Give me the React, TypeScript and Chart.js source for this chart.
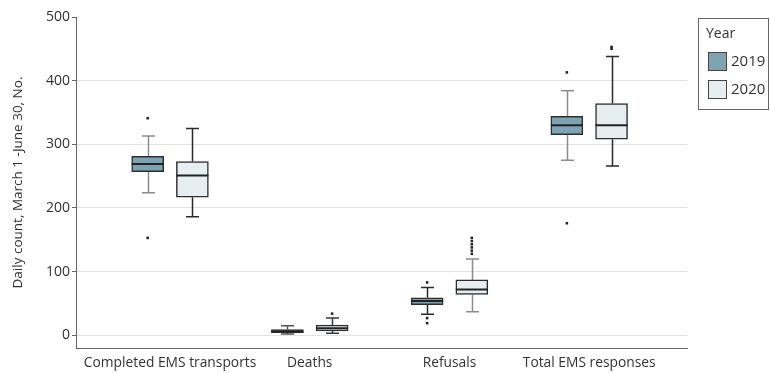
import React, { useEffect, useRef } from "react";
import { Chart, registerables } from "chart.js";

Chart.register(...registerables);

const categories = ["Completed EMS transports", "Deaths", "Refusals", "Total EMS responses"];
const years = ["2019", "2020"];
const yTicks = [0, 100, 200, 300, 400, 500];

// 2019 box statistics per category
const low2019 = [224, 2, 33, 275];
const q1_2019 = [257, 4, 48, 315];
const median2019 = [269, 6, 54, 330];
const q3_2019 = [281, 9, 59, 344];
const high2019 = [313, 15, 75, 384];
const outliers2019 = [[341, 153], [], [83, 27, 19], [413, 176]];

// 2020 box statistics per category
const low2020 = [186, 3, 37, 266];
const q1_2020 = [217, 7, 64, 308];
const median2020 = [251, 11, 72, 330];
const q3_2020 = [273, 16, 87, 364];
const high2020 = [325, 27, 120, 438];
const outliers2020 = [[], [34], [153, 148, 143, 138, 133, 128], [453, 450]];

const FONT = "'Open Sans', 'Noto Sans', sans-serif";
const TEXT = "#333333";
const fill2019 = "#7ea3b2";
const fill2020 = "#e6eef2";
const boxBorder = "#2e2e2e";
const whiskerColors2019 = ["#8c8c8c", "#555555", "#2a2a2a", "#8c8c8c"];
const whiskerColors2020 = ["#2a2a2a", "#3a3a3a", "#8c8c8c", "#2a2a2a"];
const GROUP_OFFSET = 0.16;

const stats = [
  { low: low2019, q1: q1_2019, med: median2019, q3: q3_2019, high: high2019, out: outliers2019, off: -GROUP_OFFSET, wc: whiskerColors2019 },
  { low: low2020, q1: q1_2020, med: median2020, q3: q3_2020, high: high2020, out: outliers2020, off: GROUP_OFFSET, wc: whiskerColors2020 },
];

const whiskerPlugin = {
  id: "whiskers",
  beforeDatasetsDraw(chart: any) {
    const { ctx, scales } = chart;
    const xs = scales.x, ys = scales.y;
    ctx.save();
    ctx.lineWidth = 1.5;
    stats.forEach((s) => {
      categories.forEach((_, i) => {
        const x = Math.round(xs.getPixelForValue(i + s.off)) + 0.5;
        ctx.strokeStyle = s.wc[i];
        const yl = ys.getPixelForValue(s.low[i]);
        const y1 = ys.getPixelForValue(s.q1[i]);
        const y3 = ys.getPixelForValue(s.q3[i]);
        const yh = ys.getPixelForValue(s.high[i]);
        ctx.beginPath();
        ctx.moveTo(x, yl); ctx.lineTo(x, y1);
        ctx.moveTo(x, y3); ctx.lineTo(x, yh);
        ctx.moveTo(x - 6.5, yl); ctx.lineTo(x + 6.5, yl);
        ctx.moveTo(x - 6.5, yh); ctx.lineTo(x + 6.5, yh);
        ctx.stroke();
      });
    });
    ctx.restore();
  },
  afterDatasetsDraw(chart: any) {
    const { ctx, scales } = chart;
    const xs = scales.x, ys = scales.y;
    ctx.save();
    ctx.lineWidth = 2;
    ctx.strokeStyle = "#222222";
    stats.forEach((s) => {
      categories.forEach((_, i) => {
        const x = xs.getPixelForValue(i + s.off);
        const y = ys.getPixelForValue(s.med[i]);
        ctx.beginPath();
        ctx.moveTo(x - 16, y); ctx.lineTo(x + 16, y);
        ctx.stroke();
      });
    });
    ctx.restore();
  },
};

const legendPlugin = {
  id: "boxLegend",
  afterDraw(chart: any) {
    const { ctx } = chart;
    ctx.save();
    ctx.strokeStyle = "#666666";
    ctx.lineWidth = 1;
    ctx.strokeRect(698.5, 18.5, 70, 91);
    ctx.fillStyle = TEXT;
    ctx.font = `14px ${FONT}`;
    ctx.textBaseline = "middle";
    ctx.textAlign = "left";
    ctx.fillText("Year", 706, 34);
    const fills = [fill2019, fill2020];
    years.forEach((yr, k) => {
      const top = 52 + k * 28;
      ctx.fillStyle = fills[k];
      ctx.fillRect(708, top, 18, 18);
      ctx.strokeStyle = "#444444";
      ctx.strokeRect(708.5, top + 0.5, 18, 18);
      ctx.fillStyle = TEXT;
      ctx.font = `15px ${FONT}`;
      ctx.fillText(yr, 731, top + 10);
    });
    ctx.restore();
  },
};

export default function App() {
  const ref = useRef<HTMLCanvasElement>(null);
  useEffect(() => {
    if (!ref.current) return;
    const boxData = (s: any) => categories.map((_, i) => ({ x: i + s.off, y: [s.q1[i], s.q3[i]] }));
    const outData = (s: any) => {
      const pts: any[] = [];
      categories.forEach((_, i) => s.out[i].forEach((v: number) => pts.push({ x: i + s.off, y: v })));
      return pts;
    };
    const chart = new Chart(ref.current, {
      type: "bar",
      data: {
        datasets: [
          {
            label: years[0], data: boxData(stats[0]) as any, backgroundColor: fill2019,
            borderColor: boxBorder, borderWidth: 1.5, borderSkipped: false, barThickness: 32, grouped: false,
          } as any,
          {
            label: years[1], data: boxData(stats[1]) as any, backgroundColor: fill2020,
            borderColor: boxBorder, borderWidth: 1.5, borderSkipped: false, barThickness: 32, grouped: false,
          } as any,
          {
            type: "scatter", label: "out2019", data: outData(stats[0]), pointStyle: "rect",
            radius: 1.8, backgroundColor: "#222222", borderWidth: 0,
          } as any,
          {
            type: "scatter", label: "out2020", data: outData(stats[1]), pointStyle: "rect",
            radius: 1.8, backgroundColor: "#222222", borderWidth: 0,
          } as any,
        ],
      },
      options: {
        animation: false,
        responsive: true,
        maintainAspectRatio: false,
        devicePixelRatio: 1,
        layout: { padding: { left: 0, top: 17, right: 83, bottom: 0 } },
        plugins: { legend: { display: false }, tooltip: { enabled: false } },
        scales: {
          x: {
            type: "linear",
            offset: false,
            min: -0.673,
            max: 3.7,
            afterBuildTicks: (scale: any) => { scale.ticks = categories.map((_, i) => ({ value: i })); },
            afterFit: (scale: any) => { scale.height = 25; },
            ticks: {
              callback: (v: any) => categories[Math.round(Number(v))] ?? "",
              font: { family: FONT, size: 13.8 }, color: TEXT, padding: 7, maxRotation: 0, autoSkip: false,
            },
            grid: { display: false, drawTicks: false, offset: false },
            border: { display: true, color: "#666666", width: 1 },
          },
          y: {
            type: "linear",
            min: -20,
            max: 500,
            afterBuildTicks: (scale: any) => { scale.ticks = yTicks.map((v) => ({ value: v })); },
            afterFit: (scale: any) => { scale.width = 76; },
            ticks: { font: { family: FONT, size: 14 }, color: TEXT, padding: 2 },
            grid: {
              color: (c: any) => (c.tick && c.tick.value === 500 ? "rgba(0,0,0,0)" : "#e3e3e3"),
              tickColor: "#666666", tickLength: 4, lineWidth: 1,
            },
            border: { display: true, color: "#666666", width: 1 },
            title: {
              display: true, text: "Daily count, March 1 -June 30, No.",
              font: { family: FONT, size: 13.5 }, color: TEXT, padding: { top: 10, bottom: 0 },
            },
          },
        },
      },
      plugins: [whiskerPlugin, legendPlugin],
    } as any);
    return () => chart.destroy();
  }, []);
  return (
    <div style={{ position: "absolute", left: 0, top: 0, width: 770, height: 373 }}>
      <canvas ref={ref} />
    </div>
  );
}
